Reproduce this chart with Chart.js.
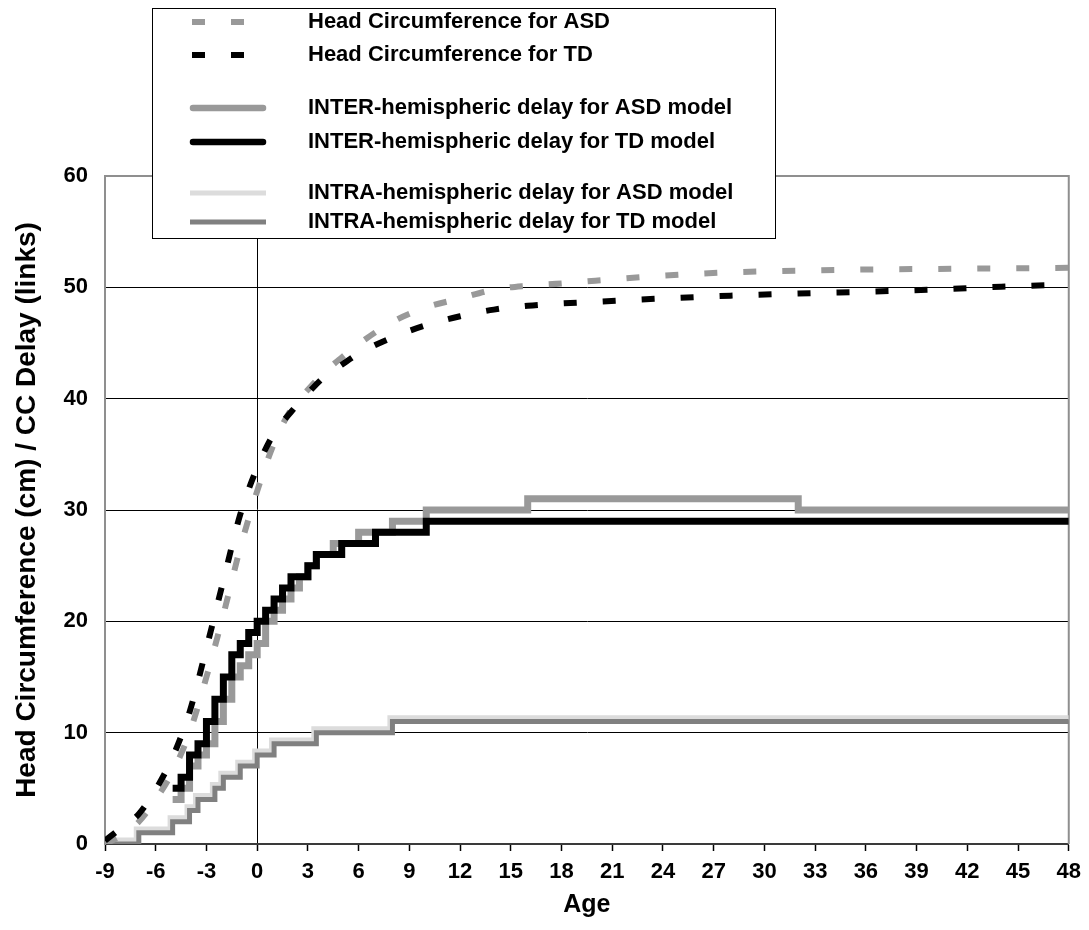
<!DOCTYPE html>
<html>
<head>
<meta charset="utf-8">
<script src="https://cdn.jsdelivr.net/npm/chart.js@4.4.0/dist/chart.umd.min.js"></script>
<style>
html,body{margin:0;padding:0;background:#ffffff;}
#wrap{width:1089px;height:930px;position:relative;}
</style>
</head>
<body>
<div id="wrap"><canvas id="c" width="1089" height="930"></canvas></div>
<script>
// ---------------- DATA ----------------
const seriesLabels = [
  "Head Circumference for ASD",
  "Head Circumference for TD",
  "INTER-hemispheric delay for ASD model",
  "INTER-hemispheric delay for TD model",
  "INTRA-hemispheric delay for ASD model",
  "INTRA-hemispheric delay for TD model"
];
const xTitle = "Age";
const yTitle = "Head Circumference (cm) / CC Delay (links)";
const xTickLabels = [-9,-6,-3,0,3,6,9,12,15,18,21,24,27,30,33,36,39,42,45,48];
const yTickLabels = [0,10,20,30,40,50,60];

// head circumference curves
const hcAges = [-9,-8,-7,-6,-5,-4,-3,-2,-1,0,1,2,3,4,5,6,8,10,12,14,16,18,20,24,28,32,36,40,44,48];
const hcASD  = [0,0.8,2.0,4.0,6.5,10.0,15.0,20.6,26.6,31.7,36.0,39.0,40.8,42.4,43.7,44.9,46.9,48.2,49.0,49.8,50.15,50.35,50.6,51.05,51.35,51.5,51.6,51.65,51.7,51.75];
const hcTD   = [0.3,1.5,2.7,4.9,7.8,11.85,17.6,23.65,29.6,33.8,36.9,38.8,40.5,42.0,43.05,44.05,45.5,46.6,47.4,48.0,48.35,48.55,48.7,49.0,49.25,49.45,49.6,49.8,50.05,50.25];

// INTER-hemispheric delay (step change points: age where the new value starts)
const interASDAges = [-5,-4.5,-4,-3.5,-3,-2.5,-2,-1.5,-1,-0.5,0,0.5,1,1.5,2,2.5,3,3.5,4.5,6,8,10,16,32,48];
const interASDVals = [4,5,7,8,9,11,13,15,16,17,18,20,21,22,23,24,25,26,27,28,29,30,31,30,30];
const interTDAges  = [-5,-4.5,-4,-3.5,-3,-2.5,-2,-1.5,-1,-0.5,0,0.5,1,1.5,2,3,3.5,5,7,10,48];
const interTDVals  = [5,6,8,9,11,13,15,17,18,19,20,21,22,23,24,25,26,27,28,29,29];

// INTRA-hemispheric delay
const intraASDAges = [-9,-7.15,-5.15,-4.15,-3.65,-2.65,-2.15,-1.15,-0.15,0.85,3.35,7.85,48];
const intraASDVals = [0.35,1.35,2.35,3.35,4.35,5.35,6.35,7.35,8.35,9.35,10.35,11.35,11.35];
const intraTDAges  = [-9,-7,-5,-4,-3.5,-2.5,-2,-1,0,1,3.5,8,48];
const intraTDVals  = [0,1,2,3,4,5,6,7,8,9,10,11,11];

// ---------------- CHART ----------------
const FONT = "'Liberation Sans', Arial, Helvetica, sans-serif";
const pts = (xs, ys) => xs.map((x, i) => ({x: x, y: ys[i]}));

const datasets = [
  {label: seriesLabels[0], data: pts(hcAges, hcASD), borderColor: '#999999', borderWidth: 6,
   borderDash: [13, 26], cubicInterpolationMode: 'monotone', order: 2, legendKind: 'dash'},
  {label: seriesLabels[1], data: pts(hcAges, hcTD), borderColor: '#000000', borderWidth: 6,
   borderDash: [13, 26], cubicInterpolationMode: 'monotone', order: 1, legendKind: 'dash'},
  {label: seriesLabels[2], data: pts(interASDAges, interASDVals), borderColor: '#999999', borderWidth: 7,
   stepped: 'before', order: 4, legendKind: 'round'},
  {label: seriesLabels[3], data: pts(interTDAges, interTDVals), borderColor: '#000000', borderWidth: 7,
   stepped: 'before', order: 3, legendKind: 'round'},
  {label: seriesLabels[4], data: pts(intraASDAges, intraASDVals), borderColor: '#dcdcdc', borderWidth: 5,
   stepped: 'before', order: 6, legendKind: 'flat'},
  {label: seriesLabels[5], data: pts(intraTDAges, intraTDVals), borderColor: '#808080', borderWidth: 5,
   stepped: 'before', order: 5, legendKind: 'flat'}
];
datasets.forEach(d => { d.pointRadius = 0; d.fill = false; d.borderCapStyle = 'butt'; d.borderJoinStyle = 'miter'; });

const framePlugin = {
  id: 'frame',
  beforeDatasetsDraw(chart) {
    const {ctx, chartArea: a} = chart;
    ctx.save();
    ctx.strokeStyle = '#8f8f8f';
    ctx.lineWidth = 2;
    ctx.beginPath();
    ctx.moveTo(a.left, a.top);
    ctx.lineTo(a.right, a.top);
    ctx.lineTo(a.right, a.bottom);
    ctx.stroke();
    ctx.restore();
  }
};

const legendPlugin = {
  id: 'boxLegend',
  afterDraw(chart) {
    const ctx = chart.ctx;
    const box = {l: 152, t: 8, r: 775, b: 238};
    const rowsY = [22, 55, 108, 142, 193, 222];
    ctx.save();
    ctx.fillStyle = '#ffffff';
    ctx.fillRect(box.l, box.t, box.r - box.l, box.b - box.t);
    ctx.strokeStyle = '#000000';
    ctx.lineWidth = 1;
    ctx.strokeRect(box.l + 0.5, box.t + 0.5, box.r - box.l, box.b - box.t);
    chart.data.datasets.forEach((ds, i) => {
      const y = rowsY[i];
      ctx.save();
      ctx.strokeStyle = ds.borderColor;
      ctx.lineWidth = ds.borderWidth;
      ctx.beginPath();
      if (ds.legendKind === 'dash') {
        ctx.setLineDash([13, 26]);
        ctx.lineCap = 'butt';
        ctx.moveTo(192, y); ctx.lineTo(246, y);
      } else if (ds.legendKind === 'round') {
        ctx.lineCap = 'round';
        ctx.lineWidth = 6.5;
        ctx.moveTo(193, y); ctx.lineTo(263, y);
      } else {
        ctx.lineCap = 'butt';
        ctx.moveTo(190, y); ctx.lineTo(266, y);
      }
      ctx.stroke();
      ctx.restore();
      ctx.fillStyle = '#000000';
      ctx.font = 'bold 22px ' + FONT;
      ctx.textBaseline = 'middle';
      ctx.textAlign = 'left';
      ctx.fillText(ds.label, 308, y);
    });
    ctx.restore();
  }
};

new Chart(document.getElementById('c'), {
  type: 'line',
  data: {datasets: datasets},
  options: {
    responsive: false,
    animation: false,
    devicePixelRatio: 1,
    events: [],
    layout: {padding: {top: 176, right: 18, left: 0, bottom: 0}},
    plugins: {legend: {display: false}, tooltip: {enabled: false}, title: {display: false}},
    scales: {
      x: {
        type: 'linear',
        min: xTickLabels[0],
        max: xTickLabels[xTickLabels.length - 1],
        afterBuildTicks(scale) { scale.ticks = xTickLabels.map(v => ({value: v})); },
        afterFit(scale) { scale.height = 86; },
        grid: {
          drawOnChartArea: true,
          color: c => (c.tick && c.tick.value === 0) ? '#000000' : 'rgba(0,0,0,0)',
          lineWidth: 1,
          drawTicks: true,
          tickLength: 7,
          tickColor: '#000000',
          tickWidth: 1.5
        },
        border: {display: true, color: '#3a3a3a', width: 2},
        ticks: {
          color: '#000000',
          font: {family: FONT, size: 22, weight: 'bold'},
          padding: 8,
          maxRotation: 0,
          autoSkip: false,
          callback: v => String(v)
        },
        title: {
          display: true, text: xTitle, color: '#000000',
          font: {family: FONT, size: 25, weight: 'bold'},
          padding: {top: 0, bottom: 10}
        }
      },
      y: {
        type: 'linear',
        min: yTickLabels[0],
        max: yTickLabels[yTickLabels.length - 1],
        afterBuildTicks(scale) { scale.ticks = yTickLabels.map(v => ({value: v})); },
        afterFit(scale) { scale.width = 105; },
        grid: {
          color: c => (c.tick && (c.tick.value === 0 || c.tick.value === 60)) ? 'rgba(0,0,0,0)' : '#000000',
          lineWidth: 1,
          drawTicks: false
        },
        border: {display: true, color: '#8f8f8f', width: 2},
        ticks: {
          color: '#000000',
          font: {family: FONT, size: 22, weight: 'bold'},
          padding: 17,
          callback: v => String(v)
        },
        title: {
          display: true, text: yTitle, color: '#000000',
          font: {family: FONT, size: 28, weight: 'bold'},
          padding: {top: 10, bottom: 0}
        }
      }
    }
  },
  plugins: [framePlugin, legendPlugin]
});
</script>
</body>
</html>
